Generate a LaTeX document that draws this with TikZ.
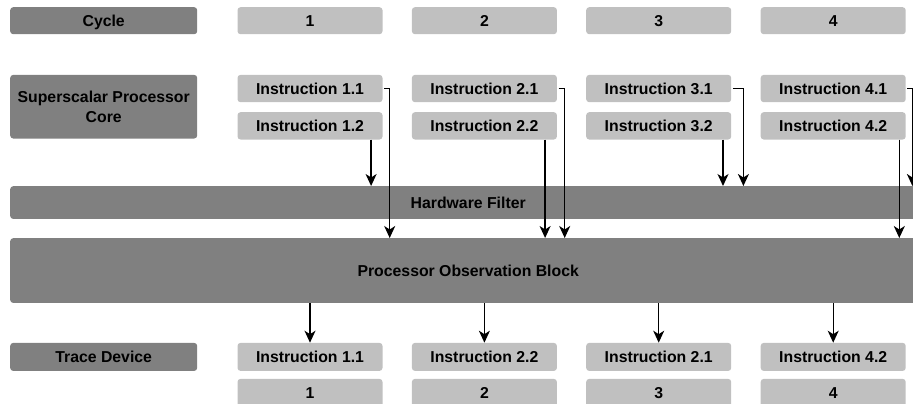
\documentclass[tikz,border=0pt]{standalone}
\usepackage{fontspec}
\setmainfont{Liberation Sans}
\usetikzlibrary{arrows.meta}
\definecolor{gdark}{HTML}{808080}
\definecolor{glight}{HTML}{C0C0C0}
\tikzset{
  base/.style={rounded corners=3pt, inner sep=0pt, anchor=north west, align=center,
    font=\fontsize{15.8}{20.5}\selectfont\bfseries},
  one/.style={text height=11.3pt, text depth=0pt},
  dark/.style={base, fill=gdark},
  light/.style={base, fill=glight, minimum width=145pt},
  arr/.style={-{Stealth[length=12pt,width=11pt,inset=3.5pt]}, line width=1.4pt}
}
\begin{document}
\begin{tikzpicture}[x=1pt,y=1pt]
\useasboundingbox (0,0) rectangle (913,-404);
\clip (0,0) rectangle (913,-404);
% left headers
\node[dark,one,minimum width=187pt,minimum height=27pt] (cyc) at (10,-7) {Cycle};
\node[dark,minimum width=187pt,minimum height=63.6pt] (ssc) at (10,-74.7) {Superscalar Processor\\Core};
\node[dark,one,minimum width=187pt,minimum height=28pt] (trd) at (10,-342.7) {Trace Device};
% bars
\node[dark,one,minimum width=916pt,minimum height=32.7pt] (hf) at (10,-186) {Hardware Filter};
\node[dark,one,minimum width=916pt,minimum height=64.7pt] (pob) at (10,-238) {Processor Observation Block};
% cycle numbers
\node[light,one,minimum height=27pt] (t1) at (237.3,-7) {1};
\node[light,one,minimum height=27pt] (t2) at (411.7,-7) {2};
\node[light,one,minimum height=27pt] (t3) at (586,-7) {3};
\node[light,one,minimum height=27pt] (t4) at (760.5,-7) {4};
% instructions
\node[light,one,minimum height=27.3pt] (i11) at (237.3,-74.7) {Instruction 1.1};
\node[light,one,minimum height=27.3pt] (i12) at (237.3,-112) {Instruction 1.2};
\node[light,one,minimum height=27.3pt] (i21) at (411.7,-74.7) {Instruction 2.1};
\node[light,one,minimum height=27.3pt] (i22) at (411.7,-112) {Instruction 2.2};
\node[light,one,minimum height=27.3pt] (i31) at (586,-74.7) {Instruction 3.1};
\node[light,one,minimum height=27.3pt] (i32) at (586,-112) {Instruction 3.2};
\node[light,one,minimum height=27.3pt] (i41) at (760.5,-74.7) {Instruction 4.1};
\node[light,one,minimum height=27.3pt] (i42) at (760.5,-112) {Instruction 4.2};
% trace output
\node[light,one,minimum height=28pt] (o1) at (237.3,-342.7) {Instruction 1.1};
\node[light,one,minimum height=28pt] (o2) at (411.7,-342.7) {Instruction 2.2};
\node[light,one,minimum height=28pt] (o3) at (586,-342.7) {Instruction 2.1};
\node[light,one,minimum height=28pt] (o4) at (760.5,-342.7) {Instruction 4.2};
\node[light,one,minimum height=28pt] (n1) at (237.3,-378.7) {1};
\node[light,one,minimum height=28pt] (n2) at (411.7,-378.7) {2};
\node[light,one,minimum height=28pt] (n3) at (586,-378.7) {3};
\node[light,one,minimum height=28pt] (n4) at (760.5,-378.7) {4};
% connectors from first instructions
\draw[arr] ([xshift=1.5pt]i11.east) -| ([xshift=7pt]i11.east |- pob.north);
\draw[arr] ([xshift=1.5pt]i21.east) -| ([xshift=7.6pt]i21.east |- pob.north);
\draw[arr] ([xshift=1.5pt]i31.east) -| ([xshift=12pt]i31.east |- hf.north);
\draw[arr] ([xshift=1.5pt]i41.east) -| ([xshift=6.5pt]i41.east |- hf.north);
% connectors from second instructions
\draw[arr] ([xshift=-11.6pt]i12.south east) -- ([xshift=-11.6pt]i12.south east |- hf.north);
\draw[arr] ([xshift=-12pt]i22.south east) -- ([xshift=-12pt]i22.south east |- pob.north);
\draw[arr] ([xshift=-8.4pt]i32.south east) -- ([xshift=-8.4pt]i32.south east |- hf.north);
\draw[arr] ([xshift=-6.6pt]i42.south east) -- ([xshift=-6.6pt]i42.south east |- pob.north);
% outputs
\draw[arr] (pob.south -| o1.north) -- (o1.north);
\draw[arr] (pob.south -| o2.north) -- (o2.north);
\draw[arr] (pob.south -| o3.north) -- (o3.north);
\draw[arr] (pob.south -| o4.north) -- (o4.north);
\end{tikzpicture}
\end{document}
